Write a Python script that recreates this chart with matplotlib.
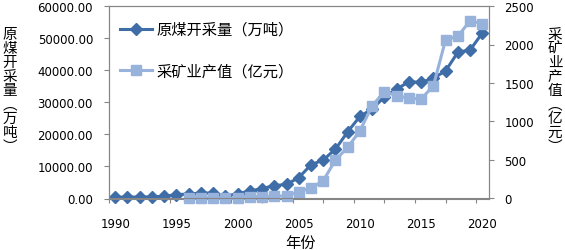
import matplotlib
matplotlib.use("Agg")
import matplotlib.pyplot as plt
import numpy as np

plt.rcParams["font.family"] = ["DejaVu Sans"]
CJK = ["Noto Sans CJK SC", "DejaVu Sans"]

# 原煤开采量（万吨），1990-2020
coal_years = list(range(1990, 2021))
coal_output = [400, 450, 450, 500, 700, 1200, 1400, 1700, 1700, 700,
               1500, 2300, 3100, 4000, 4400, 6500, 10500, 12000, 15400, 20800,
               25600, 27900, 31700, 34100, 36400, 36200, 37500, 39800, 45600, 46300,
               51600]

# 采矿业产值（亿元），1996-2020
mining_years = list(range(1996, 2021))
mining_value = [12, 12, 12, 2, 2, 25, 25, 28, 35, 88,
                136, 231, 500, 665, 880, 1205, 1387, 1335, 1301, 1292,
                1465, 2063, 2107, 2310, 2267]

label_coal = "原煤开采量（万吨）"
label_mining = "采矿业产值（亿元）"
left_ylabel = "原煤开采量︵万吨︶"
right_ylabel = "采矿业产值︵亿元︶"
xlabel = "年份"

DARK = "#3E6DA8"
LIGHT = "#97B2DB"
GRAY = "#868686"

fig = plt.figure(figsize=(5.65, 2.51), dpi=100)
ax = fig.add_axes([109 / 565, 1 - 199.5 / 251, 379.5 / 565, 192.5 / 251])
ax2 = ax.twinx()

l1, = ax.plot(coal_years, coal_output, color=DARK, lw=2.2, marker="D",
              ms=6.5, mec=DARK, mfc=DARK, label=label_coal, clip_on=False)
l2, = ax2.plot(mining_years, mining_value, color=LIGHT, lw=2.2, marker="s",
               ms=7.5, mec=LIGHT, mfc=LIGHT, label=label_mining, clip_on=False)

ax.set_xlim(1989.5, 2020.5)
ax.set_ylim(0, 60000)
ax2.set_ylim(0, 2500)

ax.set_xticks(range(1990, 2021, 5))
ax.set_xticks(np.arange(1989.5, 2021, 2.5), minor=True)
ax.tick_params(axis="x", which="major", length=0, pad=13, labelsize=8.5)
ax.tick_params(axis="x", which="minor", length=3, direction="out", color=GRAY, width=0.8)

ax.set_yticks(range(0, 60001, 10000))
ax.set_yticklabels([f"{v:.2f}" for v in range(0, 60001, 10000)])
ax.tick_params(axis="y", length=3.5, direction="out", color=GRAY, width=0.8,
               pad=8, labelsize=8.5)
ax2.set_yticks(range(0, 2501, 500))
ax2.tick_params(axis="y", length=3.5, direction="out", color=GRAY, width=0.8,
                pad=8, labelsize=8.5)

for a in (ax, ax2):
    for s in a.spines.values():
        s.set_color(GRAY)
        s.set_linewidth(0.8)

fig.text(300 / 565, 1 - 243 / 251, xlabel, family=CJK, fontsize=11,
         ha="center", va="center")
fig.text(10 / 565, 1 - 91 / 251, "\n".join(left_ylabel), family=CJK,
         fontsize=10.5, ha="center", va="center", linespacing=1.0)
fig.text(555 / 565, 1 - 91 / 251, "\n".join(right_ylabel), family=CJK,
         fontsize=10.5, ha="center", va="center", linespacing=1.0)

leg = ax2.legend(handles=[l1, l2], loc="upper left",
                 bbox_to_anchor=(120 / 565, 1 - 22 / 251),
                 bbox_transform=fig.transFigure, frameon=False,
                 prop={"family": CJK, "size": 11}, borderpad=0,
                 borderaxespad=0, labelspacing=1.6, handlelength=2.1,
                 handletextpad=0.3)

fig.savefig("out.png", dpi=100)
